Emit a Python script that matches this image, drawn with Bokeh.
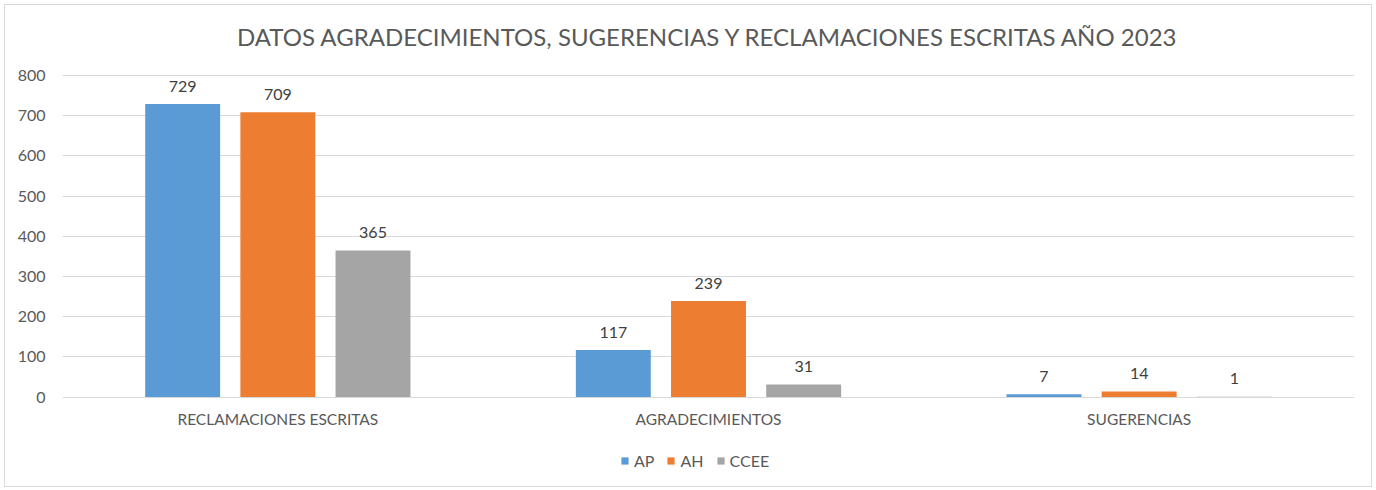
from bokeh.plotting import figure
from bokeh.models import ColumnDataSource, Legend, LegendItem, FixedTicker, Range1d
from bokeh.core.properties import value
from bokeh.embed import file_html
from bokeh.resources import INLINE

categories = ["RECLAMACIONES ESCRITAS", "AGRADECIMIENTOS", "SUGERENCIAS"]
series = ["AP", "AH", "CCEE"]
ap = [729, 117, 7]
ah = [709, 239, 14]
ccee = [365, 31, 1]
colors = ["#5b9bd5", "#ed7d31", "#a5a5a5"]
yticks = [0, 100, 200, 300, 400, 500, 600, 700, 800]

FONT = "Lato"
W, H = 1368, 483

p = figure(width=W, height=H, output_backend="svg", toolbar_location=None,
           x_range=Range1d(0, 3), y_range=Range1d(-225, 837.5),
           min_border_left=57, min_border_right=19, min_border_top=55, min_border_bottom=1)
p.styles = {"border": "1px solid #d9d9d9", "margin-left": "4px", "margin-top": "4px"}

p.title.text = "DATOS AGRADECIMIENTOS, SUGERENCIAS Y RECLAMACIONES ESCRITAS AÑO 2023"
p.title.align = "center"
p.title.text_font = FONT
p.title.text_font_size = "24px"
p.title.text_font_style = "normal"
p.title.text_color = "#595959"
p.title.offset = 0
p.title.standoff = 20

p.outline_line_color = None
p.xgrid.grid_line_color = None
p.ygrid.grid_line_color = "#d9d9d9"
p.ygrid.grid_line_width = 1
p.xaxis.visible = False

p.yaxis.ticker = FixedTicker(ticks=yticks)
p.yaxis.axis_line_color = None
p.yaxis.major_tick_line_color = None
p.yaxis.minor_tick_line_color = None
p.yaxis.major_label_text_font = FONT
p.yaxis.major_label_text_font_size = "16px"
p.yaxis.major_label_text_color = "#595959"
p.yaxis.major_label_standoff = 11

centers = [0.5, 1.5, 2.5]
cat_src = ColumnDataSource(dict(x=centers, y=[0, 0, 0], t=categories))
p.text(x="x", y="y", text="t", source=cat_src, text_align="center",
       text_baseline="middle", y_offset=22, text_font=value(FONT),
       text_font_size="15.5px", text_color="#595959")

offsets = [-0.221, 0.0, 0.221]
bw = 0.174
items = []
for name, vals, col, off in zip(series, [ap, ah, ccee], colors, offsets):
    src = ColumnDataSource(dict(x=[c + off for c in centers], top=vals,
                                lab=[str(v) for v in vals]))
    r = p.vbar(x="x", top="top", width=bw, bottom=0, source=src,
               fill_color=col, line_color=None)
    p.text(x="x", y="top", text="lab", source=src, text_align="center",
           text_baseline="alphabetic", y_offset=-18, text_font=value(FONT),
           text_font_size="16px", text_color="#404040")
    items.append(LegendItem(label=name, renderers=[r]))

legend = Legend(items=items, orientation="horizontal", location=(558, 17),
                label_text_font=FONT, label_text_font_size="16px",
                label_text_color="#595959", glyph_width=9, glyph_height=9,
                spacing=12, label_standoff=5, border_line_color=None,
                background_fill_alpha=0, margin=0, padding=0)
p.add_layout(legend)

open("out.html", "w").write(file_html(p, INLINE))
